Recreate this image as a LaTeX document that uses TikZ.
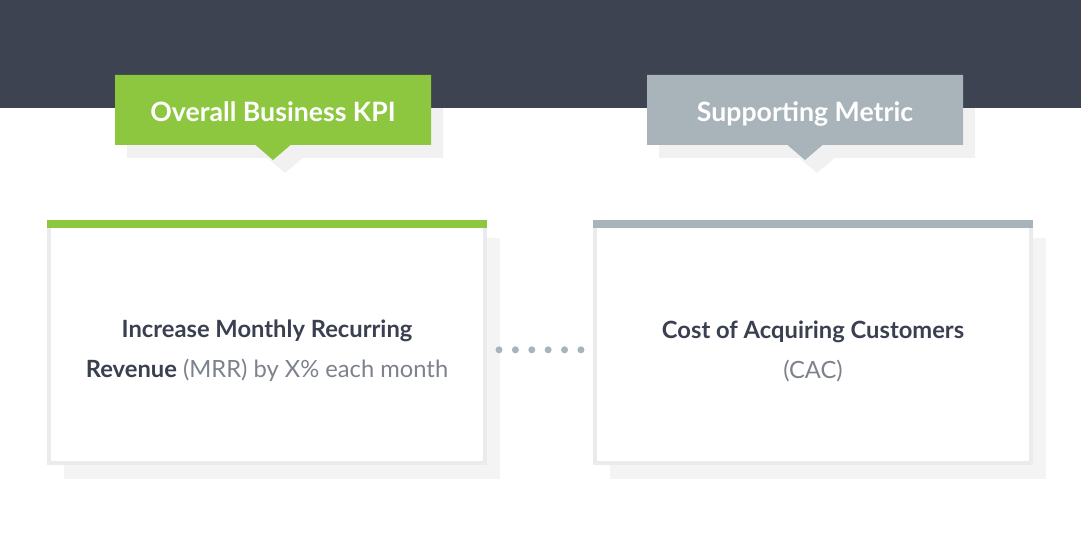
\documentclass[tikz,border=0pt]{standalone}
\usepackage{fontspec}
\setmainfont{Lato}
\definecolor{kpiband}{HTML}{3D4351}
\definecolor{kpigreen}{HTML}{8DC63F}
\definecolor{kpigray}{HTML}{A9B4BA}
\definecolor{kpitagshadow}{HTML}{F1F1F1}
\definecolor{kpiline}{HTML}{E9EBED}
\definecolor{kpishadow}{HTML}{F4F4F4}
\definecolor{kpidark}{HTML}{3A4050}
\definecolor{kpilight}{HTML}{7D828D}
\usetikzlibrary{positioning,shapes.callouts,shadows}

\begin{document}
\begin{tikzpicture}[x=0.75pt,y=0.75pt,
  tagbox/.style={rectangle callout,minimum width=237pt,minimum height=52.5pt,inner sep=0pt,outer sep=0pt,
    callout relative pointer={(0,-11.25pt)},callout pointer width=26.25pt,text height=17pt,text depth=0pt,
    font=\fontsize{20}{24}\selectfont\bfseries,text=white},
  goalbox/.style={draw=kpiline,line width=3pt,fill=white,minimum width=327pt,minimum height=180.75pt,
    general shadow={fill=kpishadow,shadow xshift=11.25pt,shadow yshift=-12pt}},
  goaltext/.style={align=center,font=\fontsize{17.8}{30}\selectfont,text=kpidark,inner sep=0pt},
  dotline/.style={draw=kpigray,line width=5.25pt,line cap=round,dash pattern=on 0pt off 12.29pt,
    shorten <=9pt,shorten >=9pt}
]
  \fill[white] (0,0) rectangle (1081,-541);
  \useasboundingbox (0,0) rectangle (1081,-541);
  % Tag shadows (under the band)
  \node[tagbox,fill=kpitagshadow] (kpitagsh) at (285,-123) {};
  \node[tagbox,fill=kpitagshadow] (metrictagsh) at (817,-123) {};
  % Header band
  \fill[kpiband] (0,0) rectangle (1081,-108);
  % Tags
  \node[tagbox,fill=kpigreen] (kpitag) at (273,-110) {Overall Business KPI};
  \node[tagbox,fill=kpigray] (metrictag) at (805,-110) {Supporting Metric};
  % Boxes
  \node[goalbox] (kpi) at (267,-342.5) {};
  \node[goalbox] (metric) at (813,-342.5) {};
  \fill[kpigreen] (kpi.north west) rectangle ([yshift=-6pt]kpi.north east);
  \fill[kpigray] (metric.north west) rectangle ([yshift=-6pt]metric.north east);
  \node[goaltext] (kpitext) at ([yshift=-6.5pt]kpi.center) {\textbf{Increase Monthly Recurring}\\
    \textbf{Revenue} {\color{kpilight}(MRR) by X\% each month}};
  \node[goaltext] (metrictext) at ([yshift=-6.5pt]metric.center) {\textbf{Cost of Acquiring Customers}\\
    {\color{kpilight}(CAC)}};
  % Link
  \draw[dotline] ([yshift=-5.5pt]kpi.east) -- ([yshift=-5.5pt]metric.west);
\end{tikzpicture}
\end{document}
